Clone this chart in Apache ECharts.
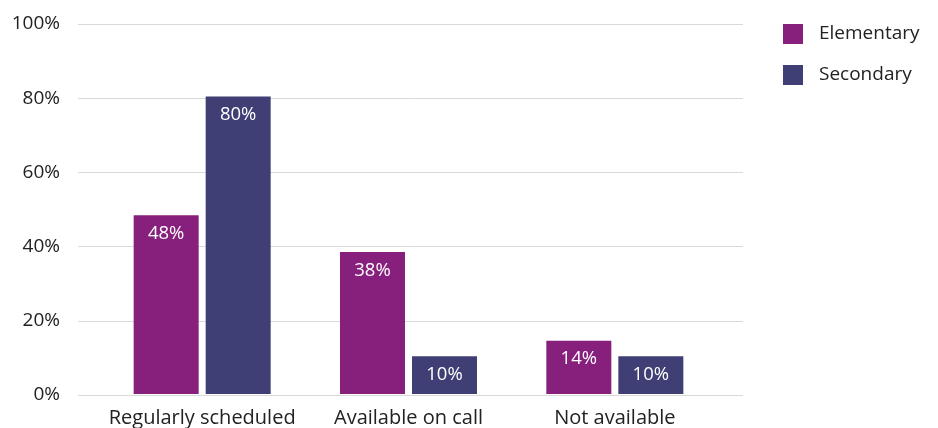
<!DOCTYPE html>
<html>
<head>
<meta charset="utf-8">
<script src="https://cdn.jsdelivr.net/npm/echarts@6/dist/echarts.min.js"></script>
<style>html,body{margin:0;padding:0;background:#fff;}#c{width:938px;height:428px;}</style>
</head>
<body>
<div id="c"></div>
<script>
var categories = ['Regularly scheduled', 'Available on call', 'Not available'];
var elementary = [48.3, 38.4, 14.4];
var secondary = [80.4, 10.2, 10.2];
var seriesNames = ['Elementary', 'Secondary'];
var yTicks = [0, 20, 40, 60, 80, 100];

var FONT = 'Open Sans';
var chart = echarts.init(document.getElementById('c'), null, {renderer: 'canvas'});
function lbl(p){ return Math.round(p.value) + '%'; }
var option = {
  animation: false,
  backgroundColor: '#fff',
  textStyle: {fontFamily: FONT},
  legend: {
    orient: 'vertical', left: 783, top: 24, padding: 0,
    itemWidth: 20, itemHeight: 20, itemGap: 21,
    icon: 'rect',
    data: seriesNames,
    textStyle: {fontFamily: FONT, fontSize: 19, color: '#222', padding: [0,0,0,11], lineHeight: 20}
  },
  grid: [
    {left: 78, right: 195, top: 24, bottom: 33, containLabel: false},
    {left: 99, right: 220, top: 24, bottom: 33, containLabel: false}
  ],
  xAxis: [
    {gridIndex: 0, type: 'value', min: 0, max: 1, show: false},
    {gridIndex: 1, type: 'category', data: categories,
     axisLine: {show: false}, axisTick: {show: false},
     axisLabel: {fontFamily: FONT, fontSize: 20, color: '#222', margin: 14, interval: 0}}
  ],
  yAxis: [
    {gridIndex: 0, type: 'value', min: yTicks[0], max: yTicks[yTicks.length-1], interval: 20,
     axisLine: {show: false}, axisTick: {show: false},
     splitLine: {lineStyle: {color: '#d9d9d9', width: 1}},
     axisLabel: {fontFamily: FONT, fontSize: 19, color: '#222', margin: 18, formatter: '{value}%'}},
    {gridIndex: 1, type: 'value', min: 0, max: 100, interval: 20, show: false, splitLine: {show: false}}
  ],
  series: [
    {name: seriesNames[0], type: 'bar', xAxisIndex: 1, yAxisIndex: 1, data: elementary,
     barWidth: 65, barGap: '10.8%', itemStyle: {color: '#871F7D'},
     label: {show: true, position: 'insideTop', distance: 9, color: '#fff', fontFamily: FONT, fontSize: 18.5, formatter: lbl}},
    {name: seriesNames[1], type: 'bar', xAxisIndex: 1, yAxisIndex: 1, data: secondary,
     barWidth: 65, barGap: '10.8%', itemStyle: {color: '#3F3F75'},
     label: {show: true, position: 'insideTop', distance: 9, color: '#fff', fontFamily: FONT, fontSize: 18.5, formatter: lbl}}
  ]
};
chart.setOption(option);
</script>
</body>
</html>
